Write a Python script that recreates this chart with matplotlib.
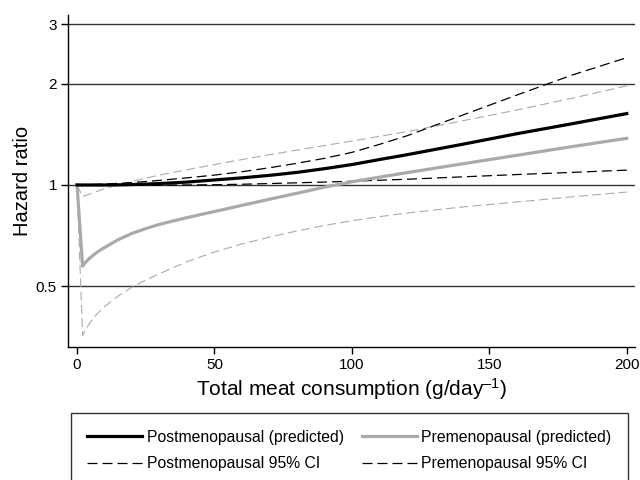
import matplotlib
matplotlib.use("Agg")
import matplotlib.pyplot as plt
from matplotlib.lines import Line2D

plt.rcParams['font.family'] = ['Liberation Sans', 'DejaVu Sans']
plt.rcParams['mathtext.fontset'] = 'custom'
plt.rcParams['mathtext.rm'] = 'Liberation Sans'
plt.rcParams['mathtext.it'] = 'Liberation Sans'

# meat intake (g/day)
meat = [0, 2, 3, 4, 6, 8, 10, 15, 20, 25, 30, 40, 50, 60, 70, 80, 90, 100,
        110, 120, 140, 160, 180, 200]

# postmenopausal: predicted HR and 95% CI
post_hr = [1.0, 1.0, 1.0, 1.0, 1.0, 1.0, 1.0, 1.001, 1.003, 1.006, 1.01, 1.02,
           1.035, 1.05, 1.068, 1.09, 1.118, 1.15, 1.19, 1.23, 1.32, 1.42, 1.52, 1.63]
post_lo = [1.0, 1.0, 1.0, 0.999, 0.999, 0.998, 0.998, 0.998, 0.998, 0.998, 0.999, 1.0,
           1.002, 1.005, 1.01, 1.015, 1.02, 1.026, 1.033, 1.04, 1.057, 1.074, 1.09, 1.107]
post_hi = [1.0, 1.001, 1.001, 1.002, 1.003, 1.005, 1.006, 1.011, 1.017, 1.024, 1.032, 1.05,
           1.07, 1.095, 1.125, 1.16, 1.20, 1.25, 1.32, 1.40, 1.61, 1.85, 2.12, 2.39]

# premenopausal: predicted HR and 95% CI
pre_hr = [1.0, 0.574, 0.588, 0.600, 0.62, 0.637, 0.652, 0.688, 0.718, 0.742, 0.764, 0.80,
          0.834, 0.87, 0.907, 0.945, 0.985, 1.022, 1.055, 1.088, 1.155, 1.225, 1.30, 1.376]
pre_lo = [1.0, 0.357, 0.37, 0.382, 0.403, 0.42, 0.435, 0.468, 0.497, 0.522, 0.545, 0.592,
          0.632, 0.668, 0.70, 0.73, 0.758, 0.783, 0.805, 0.825, 0.86, 0.89, 0.922, 0.953]
pre_hi = [1.0, 0.924, 0.93, 0.936, 0.949, 0.962, 0.975, 1.0, 1.025, 1.048, 1.07, 1.11,
          1.15, 1.19, 1.23, 1.27, 1.31, 1.35, 1.395, 1.44, 1.55, 1.67, 1.81, 1.97]

yticks = [0.5, 1, 2, 3]
ytick_labels = ['0.5', '1', '2', '3']
xticks = [0, 50, 100, 150, 200]

grey = '#aaaaaa'
dash = (8, 4)

fig = plt.figure(figsize=(6.4, 4.8), dpi=100)
ax = fig.add_axes([68/640, 1-347/480, 567/640, 332/480])

for yv in yticks:
    ax.axhline(yv, color='#333333', lw=1.0, zorder=1)

ax.plot(meat, pre_lo, color=grey, lw=0.8, dashes=dash, zorder=2)
ax.plot(meat, pre_hi, color=grey, lw=0.8, dashes=dash, zorder=2)
ax.plot(meat, post_lo, color='black', lw=0.9, dashes=dash, zorder=3)
ax.plot(meat, post_hi, color='black', lw=0.9, dashes=dash, zorder=3)
ax.plot(meat, pre_hr, color=grey, lw=2.3, zorder=4)
ax.plot(meat, post_hr, color='black', lw=2.3, zorder=5)

ax.set_yscale('log')
ax.set_ylim(0.33, 3.2)
ax.set_xlim(-3.3, 203)
ax.set_yticks(yticks)
ax.set_yticklabels(ytick_labels)
ax.yaxis.set_minor_locator(matplotlib.ticker.NullLocator())
ax.set_xticks(xticks)
ax.tick_params(labelsize=11, length=5, width=1, direction='out', pad=3)

for s in ['top', 'right']:
    ax.spines[s].set_visible(False)
for s in ['left', 'bottom']:
    ax.spines[s].set_linewidth(1.0)

ax.set_xlabel('Total meat consumption (g/day$^{\u2013 1}$)', fontsize=15, labelpad=3)
ax.set_ylabel('Hazard ratio', fontsize=14.5, labelpad=3)

handles = [
    Line2D([], [], color='black', lw=2.3),
    Line2D([], [], color='black', lw=0.9, dashes=(8, 4)),
    Line2D([], [], color=grey, lw=2.3),
    Line2D([], [], color='black', lw=0.9, dashes=(8, 4)),
]
labels = ['Postmenopausal (predicted)', 'Postmenopausal 95% CI',
          'Premenopausal (predicted)', 'Premenopausal 95% CI']
leg = fig.legend(handles, labels, ncol=2, loc='upper left',
                 bbox_to_anchor=(71/640, 1-418/480, 557/640, 0.01), mode='expand',
                 fontsize=11.3, frameon=True, fancybox=False, edgecolor='black',
                 handlelength=3.5, handletextpad=0.3, columnspacing=1.0,
                 labelspacing=0.75, borderpad=1.05, borderaxespad=0)
leg.get_frame().set_linewidth(1.0)

fig.savefig('out.png', dpi=100)
